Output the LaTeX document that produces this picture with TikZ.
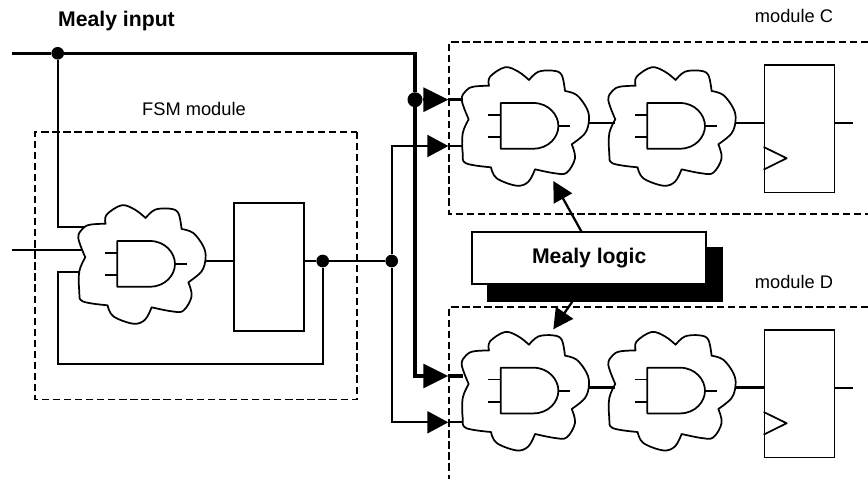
\documentclass[tikz,border=0pt]{standalone}
\usepackage{fontspec}
\setmainfont{Liberation Sans}
\usetikzlibrary{arrows.meta}
\usetikzlibrary{shadows}
\tikzset{
  wire/.style={line width=1.7pt},
  bus/.style={line width=2.4pt},
  gateline/.style={line width=1.3pt, line join=round},
  frame/.style={line width=1.3pt, dash pattern=on 5.5pt off 2.8pt},
  bigtip/.style={-{Triangle[length=18.75pt,width=18pt]}},
  midtip/.style={-{Triangle[length=15.75pt,width=16.5pt]}},
  slanttip/.style={-{Triangle[length=15pt,width=15.5pt]}},
  dot/.style={circle, fill=black, inner sep=0pt, minimum size=9.5pt},
  bigdot/.style={circle, fill=black, inner sep=0pt, minimum size=11.25pt},
  ffbox/.style={draw, line width=1.3pt, fill=white, minimum width=52.5pt, minimum height=95.5pt, inner sep=0pt},
  label/.style={anchor=base, inner sep=0pt, font=\fontsize{13.7}{16}\selectfont},
  boldlabel/.style={anchor=base, inner sep=0pt, font=\fontsize{15.9}{19}\selectfont\bfseries}
}

% cloud of logic with an and gate inside
\newcommand\logiccloud[2]{
  \begin{scope}[shift={(#2)}]
    \draw[gateline, fill=white]
    plot[smooth, tension=0.6] coordinates {(-32,16.3) (-39,-3) (-34.7,-12.3) (-27.3,-16.3) (-11.7,-17.3)}
    -- plot[smooth, tension=0.6] coordinates {(-11.7,-17.3) (-10.7,-26.3) (4.3,-35.7) (17.7,-31.3) (28.3,-23)}
    -- plot[smooth, tension=0.6] coordinates {(28.3,-23) (37.7,-31.3) (52.7,-32.3) (61,-28) (64.3,-12)}
    -- plot[smooth, tension=0.6] coordinates {(64.3,-12) (76,-8) (86,5.3) (88.3,17) (84.3,30.3) (71,41.3)}
    -- plot[smooth, tension=0.6] coordinates {(71,41.3) (74.3,55.3) (66,69.7) (54.3,70.3) (34.3,66.3)}
    -- plot[smooth, tension=0.6] coordinates {(34.3,66.3) (27.7,78.7) (16,82.7) (-4,75.3) (-9.7,64.3)}
    -- plot[smooth, tension=0.6] coordinates {(-9.7,64.3) (-34.7,60.3) (-38,50.3) (-38,30.3) (-32,16.3)}
    -- cycle;
    \draw[gateline] (0,0) -- (32.7,0) .. controls (48,0) and (57.7,12) .. (57.7,23)
    .. controls (57.7,34) and (48,45.7) .. (32.7,45.7) -- (0,45.7) -- cycle;
    \draw[gateline] (-12.3,11.7) -- (0,11.7);
    \draw[gateline] (-12.3,34.3) -- (0,34.3);
    \draw[gateline] (57.7,23) -- (69.7,23);
    \coordinate (#1e) at (-38,0);
    \coordinate (#1l) at (-32,19.7);
    \coordinate (#1o) at (88,19.7);
  \end{scope}
}

% register box with its clock edge
\newcommand\clockedge[1]{
  \draw[gateline] ([yshift=34.7pt]#1.south west)
  -- ([xshift=17.25pt,yshift=26.25pt]#1.south west)
  -- ([yshift=17.7pt]#1.south west);
}

\begin{document}
\begin{tikzpicture}[x=0.75pt, y=-0.75pt]

  \useasboundingbox (0,0) rectangle (868,479);

  %% module frames
  \draw[frame] (357,132) rectangle (35,399.5);
  \draw[frame] (868,41.7) -- (449.3,41.7) -- (449.3,214.3) -- (868,214.3);
  \draw[frame] (868,306.7) -- (449.3,306.7) -- (449.3,479);

  %% points on the wires
  \coordinate (inMealy) at (12,53.3);
  \coordinate (turnMealy) at (415,53.3);
  \coordinate (inState) at (12,249.7);
  \coordinate (tipCa) at (448.3,99.7);
  \coordinate (tipCb) at (448.3,146);
  \coordinate (tipDa) at (448.3,376);
  \coordinate (tipDb) at (448.3,422.3);
  \coordinate (fsmTop) at (90,226.7);
  \coordinate (fsmMid) at (84,249.7);
  \coordinate (fsmLow) at (84,272.3);
  \coordinate (feedLeft) at (57.7,364);

  \node[dot] (jInput) at (57.7,53.3) {};
  \node[bigdot] (jBus) at (415,99.7) {};
  \node[dot] (jState) at (322.7,261) {};
  \node[dot] (jSplit) at (391.7,261) {};

  %% wires, the clouds go over their ends
  \draw[bus] (inMealy) -- (jInput) -- (turnMealy) -- (jBus);
  \draw[bus, bigtip] (jBus) -- (tipCa);
  \draw[bus, bigtip] (jBus) |- (tipDa);
  \draw[wire] (jInput) |- (fsmTop);
  \draw[wire] (inState) -- (fsmMid);
  \draw[wire] (fsmLow) -| (feedLeft) -| (jState);
  \draw[wire, midtip] (jSplit) |- (tipCb);
  \draw[wire, midtip] (jSplit) |- (tipDb);

  \logiccloud{fsm}{117.3,241}
  \logiccloud{cA}{500.7,103}
  \logiccloud{cB}{647.3,103}
  \logiccloud{dA}{500.7,367.7}
  \logiccloud{dB}{647.3,367.7}

  \node[ffbox] (ffFsm) at (269.3,267) {};
  \node[ffbox] (ffC) at (799.5,128.7) {};
  \node[ffbox] (ffD) at (799.5,393.7) {};
  \clockedge{ffC}
  \clockedge{ffD}

  \coordinate (outC) at (852.7,122.7);
  \coordinate (outD) at (852.7,387.7);

  \draw[bus] (tipCa) -- (tipCa -| cAe);
  \draw[wire] (tipCb) -- (tipCb -| cAe);
  \draw[bus] (tipDa) -- (tipDa -| dAe);
  \draw[wire] (tipDb) -- (tipDb -| dAe);

  \draw[wire] (fsmo) -- (fsmo -| ffFsm.west);
  \draw[wire] (ffFsm.east |- jState) -- (jState) -- (jSplit);
  \draw[wire] (cAo) -- (cBl);
  \draw[wire] (dAo) -- (dBl);
  \draw[wire] (cBo) -- (cBo -| ffC.west);
  \draw[wire] (dBo) -- (dBo -| ffD.west);
  \draw[wire] (outC -| ffC.east) -- (outC);
  \draw[wire] (outD -| ffD.east) -- (outD);

  %% logic box and its two arrows
  \coordinate (tipUp) at (553.3,181);
  \coordinate (tipDown) at (553.3,329.3);
  \coordinate (tailUp) at (581.7,232);
  \coordinate (tailDown) at (572.7,301);

  \draw[wire, slanttip] (tailUp) -- (tipUp);
  \draw[wire, slanttip] (tailDown) -- (tipDown);

  \node[draw, line width=1.3pt, fill=white, minimum width=175.3pt, minimum height=39.5pt, inner sep=0pt,
  copy shadow={fill=black, draw=black, shadow xshift=12pt, shadow yshift=-12.5pt},
  font=\fontsize{15.9}{19}\selectfont\bfseries] (mealy) at (589.2,258) {Mealy logic};

  %% labels
  \node[boldlabel] (lblInput) at (116.5,26) {Mealy input};
  \node[label] (lblFsm) at (194,115) {FSM module};
  \node[label] (lblC) at (794,22.7) {module C};
  \node[label] (lblD) at (794,288.3) {module D};
\end{tikzpicture}
\end{document}
